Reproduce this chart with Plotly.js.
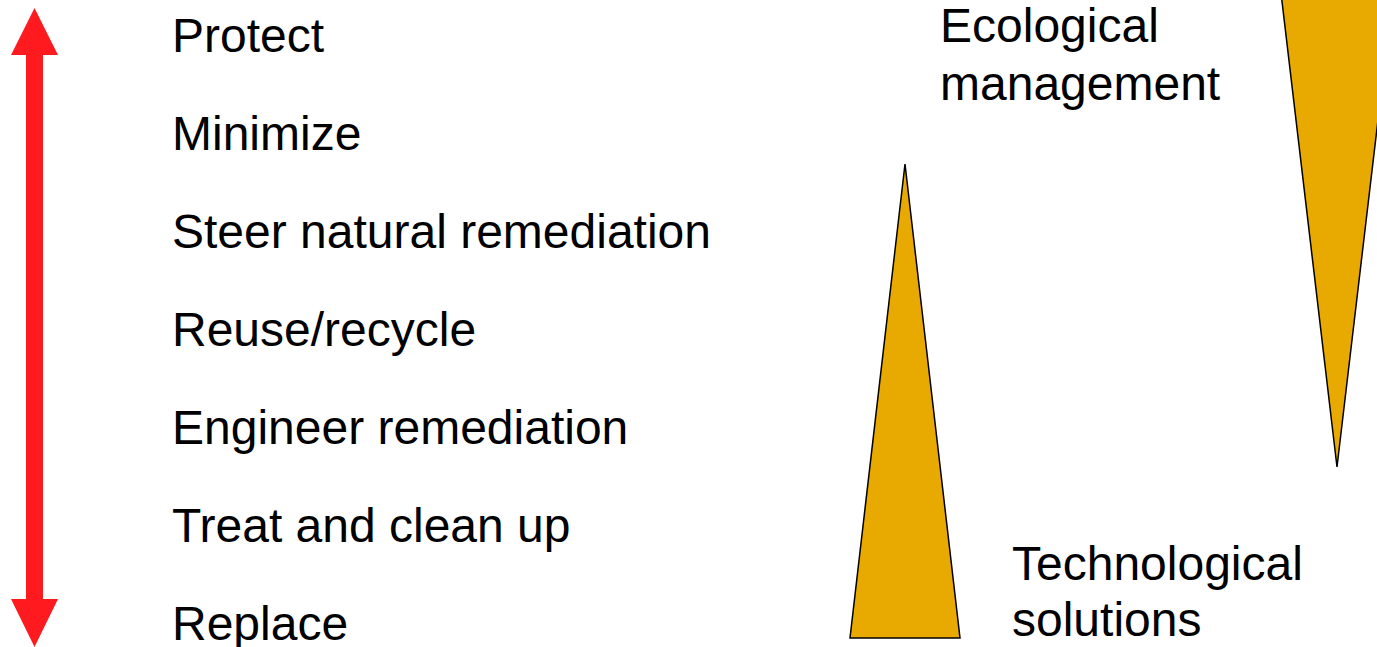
<!DOCTYPE html>
<html>
<head>
<meta charset="utf-8">
<script src="https://cdn.plot.ly/plotly-3.0.1.min.js"></script>
<style>
  html, body { margin: 0; padding: 0; background: #ffffff; }
  #chart { width: 1377px; height: 647px; }
</style>
</head>
<body>
<div id="chart"></div>
<script>
// ---- data ----
const scaleLabels = ['Protect', 'Minimize', 'Steer natural remediation', 'Reuse/recycle',
                     'Engineer remediation', 'Treat and clean up', 'Replace'];
const ecoLabel = ['Ecological', 'management'];
const techLabel = ['Technological', 'solutions'];

// red double-headed arrow outline (diagram units = pixels, y downward)
const arrowX = [34.5, 58, 43, 43, 58, 34.5, 11, 26, 26, 11, 34.5];
const arrowY = [8, 55, 55, 599, 599, 647, 599, 599, 55, 55, 8];

// rising wedge (technological solutions)
const techX = [905, 960, 850, 905];
const techY = [164, 638, 638, 164];

// falling wedge (ecological management)
const ecoX = [1281, 1393, 1337, 1281];
const ecoY = [-7, -7, 467, -7];

// ---- drawing ----
const FONT = 'Arial, "Liberation Sans", sans-serif';
const FS = 48;
const GOLD = '#E8A900';

const traces = [
  { x: arrowX, y: arrowY, mode: 'lines', fill: 'toself', fillcolor: '#FF1A1F',
    line: { width: 0, color: '#FF1A1F' }, hoverinfo: 'skip' },
  { x: techX, y: techY, mode: 'lines', fill: 'toself', fillcolor: GOLD,
    line: { width: 1.5, color: '#000000' }, hoverinfo: 'skip' },
  { x: ecoX, y: ecoY, mode: 'lines', fill: 'toself', fillcolor: GOLD,
    line: { width: 1.5, color: '#000000' }, hoverinfo: 'skip' }
];

const midOff = 16.6; // baseline -> bbox middle
const annotations = [];
scaleLabels.forEach((t, i) => {
  annotations.push({ text: t, x: 171, y: 52 + i * 98 - midOff, xref: 'x', yref: 'y',
    xanchor: 'left', yanchor: 'middle', showarrow: false, borderpad: 0,
    font: { family: FONT, size: FS, color: '#000000' } });
});
ecoLabel.forEach((t, i) => {
  annotations.push({ text: t, x: 939, y: 42 + i * 58 - midOff, xref: 'x', yref: 'y',
    xanchor: 'left', yanchor: 'middle', showarrow: false, borderpad: 0,
    font: { family: FONT, size: FS, color: '#000000' } });
});
techLabel.forEach((t, i) => {
  annotations.push({ text: t, x: 1011, y: 580 + i * 56 - midOff, xref: 'x', yref: 'y',
    xanchor: 'left', yanchor: 'middle', showarrow: false, borderpad: 0,
    font: { family: FONT, size: FS, color: '#000000' } });
});

const layout = {
  width: 1377, height: 647,
  margin: { l: 0, r: 0, t: 0, b: 0, pad: 0 },
  paper_bgcolor: '#ffffff', plot_bgcolor: '#ffffff',
  showlegend: false,
  xaxis: { range: [0, 1377], visible: false, fixedrange: true },
  yaxis: { range: [647, 0], visible: false, fixedrange: true },
  annotations: annotations
};

Plotly.newPlot('chart', traces, layout, { staticPlot: true, displayModeBar: false });
</script>
</body>
</html>
